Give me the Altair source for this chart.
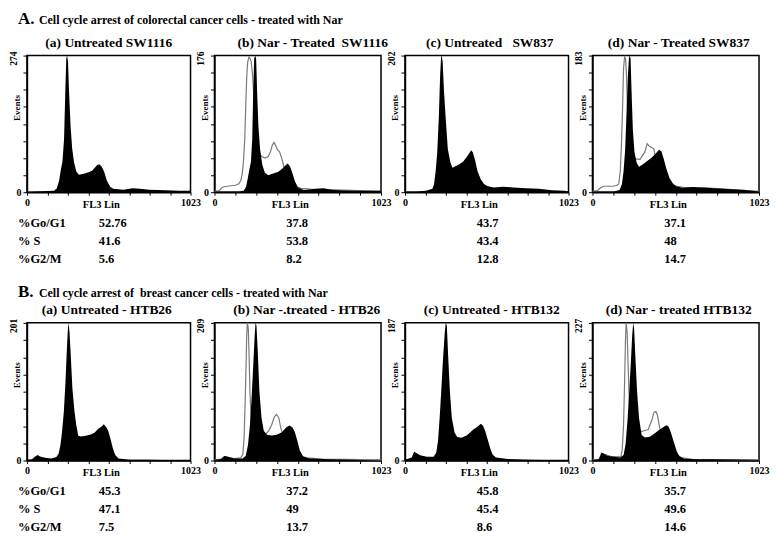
import altair as alt
import pandas as pd

FONT = "Liberation Serif"

# ---------------- text content ----------------
heading_letters = ["A.", "B."]
heading_texts = [
    "Cell cycle arrest of colorectal cancer cells - treated with Nar",
    "Cell cycle arrest of\u00a0 breast cancer cells - treated with Nar",
]
titles_A = ["(a) Untreated SW1116", "(b) Nar - Treated\u00a0 SW1116",
            "(c) Untreated\u00a0\u00a0 SW837", "(d) Nar - Treated SW837"]
titles_B = ["(a) Untreated - HTB26", "(b) Nar -.treated - HTB26",
            "(c) Untreated - HTB132", "(d) Nar - treated HTB132"]
ymax_A = [274, 176, 202, 183]
ymax_B = [201, 209, 187, 227]
row_labels = ["%Go/G1", "% S", "%G2/M"]
pct_A = [["52.76", "41.6", "5.6"], ["37.8", "53.8", "8.2"],
         ["43.7", "43.4", "12.8"], ["37.1", "48", "14.7"]]
pct_B = [["45.3", "47.1", "7.5"], ["37.2", "49", "13.7"],
         ["45.8", "45.4", "8.6"], ["35.7", "49.6", "14.6"]]
x_ticks = [0, 128, 256, 384, 512, 640, 768, 896, 1023]

# ---------------- histogram data (channel, events) ----------------
A_a_ch = [0, 88, 170, 187, 201, 212, 222, 232, 240, 246, 251, 257, 263, 273, 283, 294, 308, 325, 355, 386,
          407, 421, 438, 452, 466, 483, 499, 520, 540, 602, 663, 705, 766, 869, 951, 1023]
A_a_ev = [1, 2, 3, 8, 23, 45, 61, 106, 203, 268, 274, 261, 203, 132, 87, 61, 42, 35, 37, 40,
          43, 48, 54, 56, 52, 41, 24, 11, 7, 5, 8, 7, 5, 4, 3, 3]

A_b_ch = [0, 150, 180, 194, 204, 214, 224, 232, 238, 244, 250, 256, 262, 270, 280, 294, 310, 330, 360, 390,
          414, 434, 450, 464, 478, 494, 513, 549, 609, 669, 729, 849, 1023]
A_b_ev = [1, 1, 2, 7, 17, 29, 39, 68, 130, 172, 176, 172, 130, 85, 56, 35, 25, 22, 24, 26,
          30, 34, 37, 33, 25, 14, 6, 3, 4, 5, 3, 2, 2]
A_b_g_ch = [0, 30, 46, 60, 90, 130, 150, 162, 170, 178, 186, 192, 198, 204, 212, 220, 226, 234, 246, 260,
            274, 290, 310, 330, 344, 356, 366, 376, 386, 400, 414, 426, 440, 460, 490, 530, 589, 749, 1023]
A_b_g_ev = [1, 2, 6, 7, 8, 9, 11, 15, 23, 39, 68, 110, 147, 168, 174, 172, 168, 151, 110, 68,
            50, 46, 44, 46, 52, 61, 64, 60, 55, 52, 43, 33, 23, 14, 8, 5, 4, 3, 1]

A_c_ch = [0, 71, 131, 172, 182, 192, 202, 212, 220, 226, 230, 236, 244, 256, 268, 283, 297, 313, 337, 363,
          383, 400, 414, 424, 438, 454, 474, 494, 515, 555, 615, 676, 757, 837, 918, 999, 1023]
A_c_ev = [1, 1, 2, 5, 12, 31, 59, 112, 173, 200, 202, 192, 150, 105, 64, 45, 36, 38, 41, 45,
          51, 57, 62, 59, 48, 31, 19, 12, 9, 7, 8, 7, 6, 5, 3, 2, 1]

A_d_ch = [0, 131, 167, 181, 191, 201, 209, 218, 224, 228, 234, 240, 248, 258, 272, 286, 308, 332, 363, 389,
          409, 423, 437, 453, 473, 493, 514, 554, 614, 695, 775, 856, 937, 1023]
A_d_ev = [1, 1, 3, 11, 28, 58, 105, 157, 179, 183, 179, 136, 84, 54, 39, 34, 37, 41, 46, 52,
          57, 55, 45, 32, 19, 12, 8, 6, 7, 6, 5, 4, 3, 1]
A_d_g_ch = [0, 30, 50, 70, 121, 147, 161, 171, 179, 185, 191, 197, 203, 209, 215, 224, 234, 252, 292, 322,
            336, 348, 363, 377, 389, 403, 423, 453, 493, 574, 695, 1023]
A_d_g_ev = [1, 2, 6, 8, 8, 9, 11, 28, 70, 113, 166, 181, 179, 157, 113, 70, 54, 45, 44, 54,
            65, 62, 60, 58, 44, 32, 22, 13, 9, 6, 6, 1]

B_a_ch = [0, 31, 51, 67, 82, 113, 153, 184, 198, 209, 219, 231, 241, 250, 256, 260, 266, 274, 284, 297,
          309, 321, 338, 368, 399, 424, 444, 464, 481, 495, 507, 522, 538, 552, 573, 644, 747, 1023]
B_a_ev = [1, 2, 6, 8, 6, 4, 3, 5, 10, 22, 41, 72, 115, 164, 192, 201, 188, 154, 106, 72,
          51, 36, 35, 36, 38, 41, 46, 49, 53, 49, 44, 32, 17, 8, 3, 1, 1, 0]

B_b_ch = [0, 40, 61, 77, 121, 172, 192, 206, 218, 228, 238, 246, 252, 258, 266, 276, 289, 303, 323, 353,
          383, 414, 440, 460, 480, 494, 509, 525, 545, 585, 706, 848, 1023]
B_b_ev = [1, 2, 7, 6, 3, 3, 7, 24, 54, 94, 144, 184, 209, 205, 165, 105, 65, 45, 39, 38,
          39, 43, 50, 53, 50, 43, 30, 15, 6, 3, 2, 1, 0]
B_b_g_ch = [0, 40, 61, 81, 121, 161, 174, 182, 188, 194, 198, 202, 208, 212, 218, 226, 238, 262, 303, 333,
            353, 367, 381, 395, 407, 420, 444, 484, 525, 565, 666, 1023]
B_b_g_ev = [1, 2, 6, 5, 3, 4, 9, 34, 84, 144, 189, 209, 200, 165, 105, 60, 35, 27, 37, 45,
            55, 66, 70, 65, 50, 39, 30, 17, 7, 4, 2, 1]

B_c_ch = [0, 42, 57, 74, 95, 137, 179, 196, 207, 217, 228, 238, 249, 255, 262, 270, 281, 293, 310, 327,
          352, 386, 407, 428, 453, 475, 489, 502, 517, 534, 548, 569, 643, 770, 1023]
B_c_ev = [1, 4, 12, 10, 7, 5, 5, 11, 27, 58, 98, 138, 174, 187, 183, 143, 94, 58, 38, 32,
          31, 34, 38, 42, 46, 50, 47, 40, 29, 16, 8, 4, 2, 1, 0]

B_d_ch = [0, 40, 56, 70, 91, 131, 171, 191, 203, 215, 226, 236, 244, 250, 256, 264, 274, 286, 302, 322,
          352, 383, 407, 429, 453, 467, 483, 499, 518, 534, 564, 634, 735, 1023]
B_d_ev = [1, 2, 13, 11, 8, 6, 5, 9, 26, 65, 114, 163, 206, 227, 217, 168, 114, 70, 42, 38,
          39, 45, 50, 54, 58, 56, 45, 31, 15, 7, 3, 2, 2, 1]
B_d_g_ch = [0, 40, 56, 75, 111, 161, 175, 183, 191, 197, 203, 207, 213, 219, 227, 237, 252, 282, 316, 342,
            363, 377, 389, 399, 409, 417, 433, 463, 503, 544, 614, 1023]
B_d_g_ev = [1, 2, 12, 10, 7, 6, 7, 18, 59, 125, 201, 227, 212, 157, 92, 60, 49, 46, 49, 51,
            65, 79, 81, 75, 60, 49, 38, 23, 12, 5, 2, 1]

# ---------------- layout ----------------
col_w = [164, 167, 164, 167]
H_HEAD_A, H_HIST_A, H_TAB_A, H_HEAD_B, H_HIST_B, H_TAB_B = 42, 137, 95, 36, 138, 72
dx_A = [0, 15, 3, 3]
dx_B = [-2, 9, 5, 3]


def panel(ch, ev, ymax, title, w, h, tdx, gch=None, gev=None):
    xenc = alt.X("ch:Q", scale=alt.Scale(domain=[0, 1023], nice=False, zero=False),
                 axis=alt.Axis(values=x_ticks,
                               labelExpr="datum.value == 0 ? '0' : (datum.value == 1023 ? '1023' : '')",
                               labelFlush=False, tickSize=3, labelPadding=2, labelFontSize=10,
                               title="FL3 Lin", titleFontSize=10.5, titleX=w / 2 - 8, titleY=7,
                               titleAlign="center", titleBaseline="top"))
    yenc = alt.Y("ev:Q", scale=alt.Scale(domain=[0, ymax], nice=False, zero=True),
                 axis=alt.Axis(values=[ymax * k / 8 for k in range(9)],
                               labelExpr="datum.value == 0 ? '0' : ''",
                               labelFlush=False, tickSize=4, labelPadding=2, labelFontSize=10,
                               title="Events", titleFontSize=9, titleX=-10, titleY=round(0.38 * h),
                               titleAngle=270, titleAlign="center", titleBaseline="middle"))
    layers = []
    if gch is not None:
        layers.append(alt.Chart(pd.DataFrame({"ch": gch, "ev": gev}))
                      .mark_line(color="#7a7a7a", strokeWidth=1.2, interpolate="linear")
                      .encode(x=xenc, y=yenc))
    layers.append(alt.Chart(pd.DataFrame({"ch": ch, "ev": ev}))
                  .mark_area(color="black", interpolate="linear")
                  .encode(x=xenc, y=yenc))
    layers.append(alt.Chart(pd.DataFrame({"ev": [ymax], "t": [str(ymax)]}))
                  .mark_text(angle=270, align="right", baseline="middle", dx=4, font=FONT,
                             fontSize=9.5, fontWeight="bold", color="black")
                  .encode(y=yenc, x=alt.value(-13), text="t:N"))
    return alt.layer(*layers).properties(
        width=w, height=h,
        title=alt.TitleParams(text=title, font=FONT, fontSize=13.5, fontWeight="bold", color="black",
                              frame="group", offset=-9, dx=tdx, anchor="middle", baseline="alphabetic"),
        view=alt.ViewBackground(stroke="black", strokeWidth=1.5, strokeOpacity=1),
    )


def table(vals, w, h, with_labels):
    df = pd.DataFrame({"r": row_labels, "v": vals})
    yenc = alt.Y("r:N", scale=alt.Scale(domain=row_labels, range=[31, 67], padding=0), axis=None)
    vals_chart = (alt.Chart(df)
                  .mark_text(align="left", baseline="middle", font=FONT, fontSize=12.5,
                             fontWeight="bold", color="black")
                  .encode(y=yenc, x=alt.value(72), text="v:N"))
    if with_labels:
        lab = (alt.Chart(df)
               .mark_text(align="left", baseline="middle", font=FONT, fontSize=12.5,
                          fontWeight="bold", color="black")
               .encode(y=yenc, x=alt.value(-9), text="r:N"))
        return alt.layer(lab, vals_chart).properties(width=w, height=h)
    return vals_chart.properties(width=w, height=h)


def heading(letter, text, w, h):
    df = pd.DataFrame({"a": [letter], "b": [text]})
    a = (alt.Chart(df).mark_text(align="left", baseline="alphabetic", font=FONT, fontSize=17,
                                 fontWeight="bold", color="black")
         .encode(x=alt.value(-9), y=alt.value(10), text="a:N"))
    b = (alt.Chart(df).mark_text(align="left", baseline="alphabetic", font=FONT, fontSize=12,
                                 fontWeight="bold", color="black")
         .encode(x=alt.value(12), y=alt.value(10), text="b:N"))
    return alt.layer(a, b).properties(width=w, height=h)


def empty(w, h):
    return (alt.Chart(pd.DataFrame({"e": [""]})).mark_text(color="black")
            .encode(text="e:N").properties(width=w, height=h))


data_A = [(A_a_ch, A_a_ev, None, None), (A_b_ch, A_b_ev, A_b_g_ch, A_b_g_ev),
          (A_c_ch, A_c_ev, None, None), (A_d_ch, A_d_ev, A_d_g_ch, A_d_g_ev)]
data_B = [(B_a_ch, B_a_ev, None, None), (B_b_ch, B_b_ev, B_b_g_ch, B_b_g_ev),
          (B_c_ch, B_c_ev, None, None), (B_d_ch, B_d_ev, B_d_g_ch, B_d_g_ev)]

cells = []
cells.append(heading(heading_letters[0], heading_texts[0], col_w[0], H_HEAD_A))
cells += [empty(col_w[i], H_HEAD_A) for i in range(1, 4)]
for i in range(4):
    ch, ev, gch, gev = data_A[i]
    cells.append(panel(ch, ev, ymax_A[i], titles_A[i], col_w[i], H_HIST_A, dx_A[i], gch, gev))
for i in range(4):
    cells.append(table(pct_A[i], col_w[i], H_TAB_A, i == 0))
cells.append(heading(heading_letters[1], heading_texts[1], col_w[0], H_HEAD_B))
cells += [empty(col_w[i], H_HEAD_B) for i in range(1, 4)]
for i in range(4):
    ch, ev, gch, gev = data_B[i]
    cells.append(panel(ch, ev, ymax_B[i], titles_B[i], col_w[i], H_HIST_B, dx_B[i], gch, gev))
for i in range(4):
    cells.append(table(pct_B[i], col_w[i], H_TAB_B, i == 0))

chart = (alt.concat(*cells, columns=4, spacing={"row": 0, "column": 24},
                    bounds="flush", align="each")
         .properties(padding=0, background="white")
         .configure_view(stroke="transparent")
         .configure_axis(grid=False, domainColor="black", domainWidth=1.5, tickColor="black",
                         tickWidth=1, labelColor="black", titleColor="black", labelFont=FONT,
                         titleFont=FONT, labelFontWeight="bold", titleFontWeight="bold"))

chart.save("out.html", embed_options={"renderer": "svg", "actions": False})
